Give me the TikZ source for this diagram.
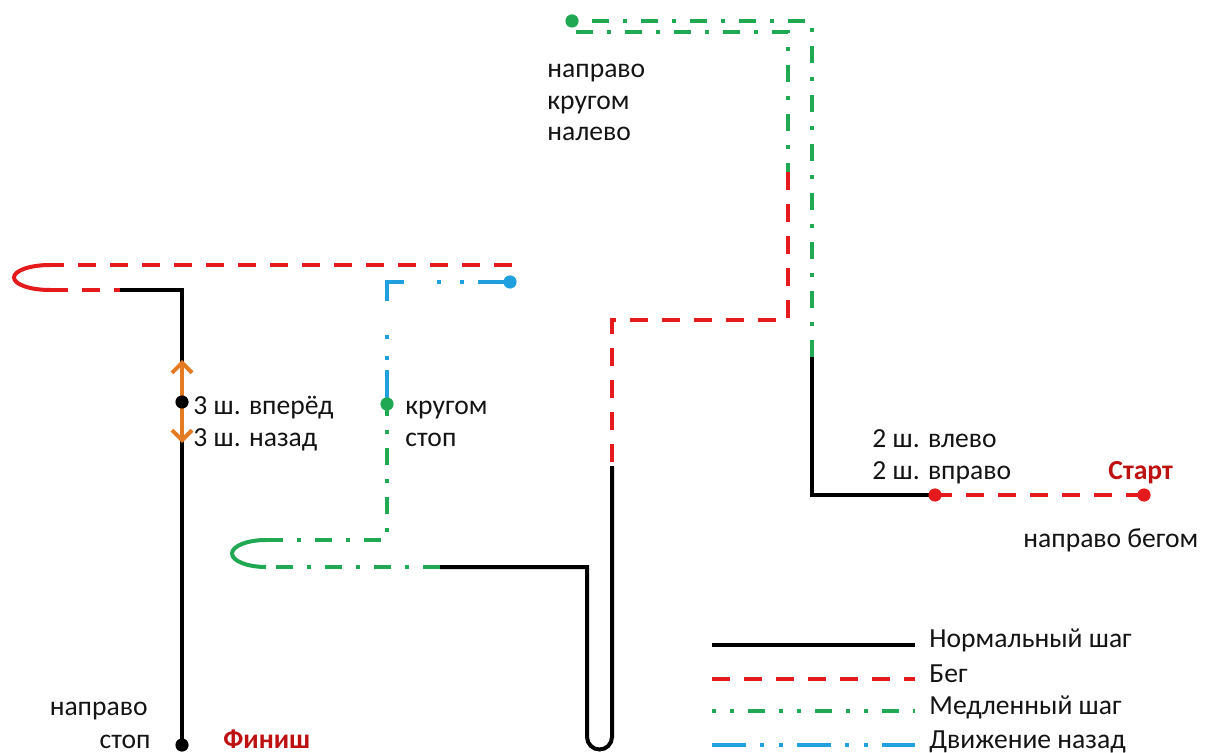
\documentclass[tikz,border=0pt]{standalone}
\usepackage{fontspec}
\setmainfont{Carlito}
\usetikzlibrary{arrows.meta}
\definecolor{runred}{RGB}{228,26,28}
\definecolor{slowgreen}{RGB}{32,168,82}
\definecolor{backblue}{RGB}{32,160,222}
\definecolor{arroworange}{RGB}{228,122,34}
\definecolor{titlered}{RGB}{190,18,18}
\definecolor{txt}{RGB}{20,20,20}
\tikzset{
  normal/.style={line width=2pt, black},
  run/.style={line width=2pt, runred, dash pattern=on 9pt off 7pt},
  runsolid/.style={line width=2pt, runred},
  slow/.style={line width=2pt, slowgreen, dash pattern=on 8.5pt off 7pt on 2pt off 7pt},
  slowsolid/.style={line width=2pt, slowgreen},
  back/.style={line width=2pt, backblue, dash pattern=on 17pt off 7pt on 2pt off 7.5pt on 2pt off 7pt},
  backroute/.style={line width=2pt, backblue, dash pattern=on 16pt off 7pt on 2pt off 9.5pt on 2pt off 16.5pt on 18pt off 17pt on 2pt off 8.5pt on 2pt off 5pt on 17pt off 5pt},
  lbl/.style={font=\fontsize{13.8}{16}\selectfont, text=txt, inner sep=0pt, anchor=base west},
  ttl/.style={font=\fontsize{13.8}{16}\selectfont\bfseries, text=titlered, inner sep=0pt, anchor=base west},
  spot/.style={circle, fill=#1, inner sep=0pt, minimum size=6.6pt},
  twoway/.style={line width=2pt, arroworange, -{Straight Barb[length=5pt,width=10pt,line width=2pt]}},
}
\begin{document}
\begin{tikzpicture}[x=0.5pt,y=-0.5pt]
\useasboundingbox (0,0) rectangle (1209,753);
% ---- key points
\coordinate (S)  at (1144,495);
\coordinate (P1) at (935,495);
\coordinate (P2) at (812,495);
\coordinate (P3) at (812,357);
\coordinate (P4) at (812,21);
\coordinate (G1) at (572,21);
\coordinate (I0) at (576,32);
\coordinate (I1) at (788,32);
\coordinate (I2) at (788,172);
\coordinate (I3) at (788,320);
\coordinate (I4) at (612,320);
\coordinate (I5) at (612,466);
\coordinate (I6) at (612,737);
\coordinate (I7) at (587,737);
\coordinate (I8) at (587,567);
\coordinate (I9) at (440,567);
\coordinate (I10) at (266,567);
\coordinate (I11) at (266,540);
\coordinate (I12) at (387,540);
\coordinate (K)  at (387,404);
\coordinate (B1) at (387,282);
\coordinate (B2) at (510,282);
\coordinate (R1) at (512,265);
\coordinate (R2) at (50,265);
\coordinate (R3) at (50,290);
\coordinate (R4) at (120,290);
\coordinate (R5) at (182,290);
\coordinate (M)  at (182,402);
\coordinate (AU) at (182,360);
\coordinate (AD) at (182,443);
\coordinate (F)  at (182,745);
% ---- route
\draw[run] (S) -- (P1);
\draw[normal] (P1) -- (P2) -- (P3);
\draw[slow] (P3) -- (P4) -- (G1);
\draw[slow] (I0) -- (I1) -- (I2);
\draw[run] (I2) -- (I3) -- (I4) -- (I5);
\draw[normal] (I5) -- (I6) arc[start angle=0, end angle=-180, radius=6.25pt] -- (I8) -- (I9);
\draw[slow] (I9) -- (I10);
\draw[slowsolid] (I10) arc[start angle=270, end angle=90, x radius=17pt, y radius=6.75pt];
\draw[slow] (I11) -- (I12) -- (K);
\draw[backroute] (B2) -- (B1) -- (K);
\draw[run] (R1) -- (R2);
\draw[runsolid] (R2) arc[start angle=90, end angle=270, x radius=18pt, y radius=6.25pt];
\draw[run] (R3) -- (R4);
\draw[normal] (R4) -- (R5) -- (F);
\draw[twoway] (M) -- (AU);
\draw[twoway] (M) -- (AD);
% ---- spots
\node[spot=runred] (sS) at (S) {};
\node[spot=runred] (sP1) at (P1) {};
\node[spot=slowgreen] (sG1) at (G1) {};
\node[spot=slowgreen] (sK) at (K) {};
\node[spot=backblue] (sB2) at (B2) {};
\node[spot=black] (sM) at (M) {};
\node[spot=black] (sF) at (F) {};
% ---- labels
\node[lbl] (t1) at (547,78) {направо};
\node[lbl] (t2) at (547,110) {кругом};
\node[lbl] (t3) at (547,141) {налево};
\node[lbl] (t4) at (193,415) {3 ш. вперёд};
\node[lbl] (t5) at (193,446) {3 ш. назад};
\node[lbl] (t6) at (405,415) {кругом};
\node[lbl] (t7) at (405,446) {стоп};
\node[lbl] (t8) at (872,447) {2 ш. влево};
\node[lbl] (t9) at (872,479) {2 ш. вправо};
\node[ttl] (t10) at (1108,479) {Старт};
\node[lbl] (t11) at (1023,547) {направо бегом};
\node[lbl,anchor=base east] (t12) at (148,715) {направо};
\node[lbl,anchor=base east] (t13) at (151,748) {стоп};
\node[ttl] (t14) at (223,748) {Финиш};
% ---- legend
\coordinate (L1a) at (712,645); \coordinate (L1b) at (915,645);
\coordinate (L2a) at (712,679); \coordinate (L2b) at (915,679);
\coordinate (L3a) at (712,711); \coordinate (L3b) at (915,711);
\coordinate (L4a) at (712,745); \coordinate (L4b) at (915,745);
\draw[normal] (L1a) -- (L1b);
\draw[run] (L2a) -- (L2b);
\draw[slowgreen, line width=2pt, dash pattern=on 2pt off 7pt on 2pt off 7pt on 8.5pt off 7pt] (L3a) -- (L3b);
\draw[back] (L4a) -- (L4b);
\node[lbl] (l1) at (929,647) {Нормальный шаг};
\node[lbl] (l2) at (929,682) {Бег};
\node[lbl] (l3) at (929,714) {Медленный шаг};
\node[lbl] (l4) at (929,748) {Движение назад};
\end{tikzpicture}
\end{document}
